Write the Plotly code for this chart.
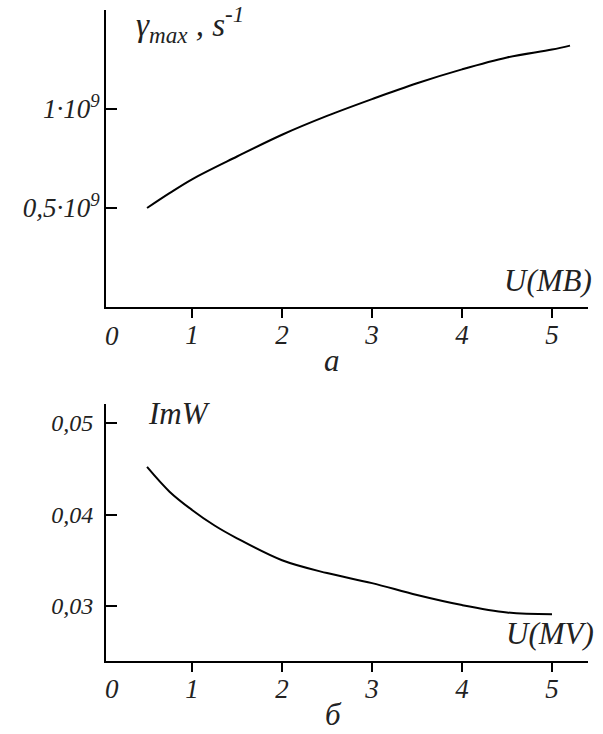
import plotly.graph_objects as go

# ---- data ----
U_a = [0.5, 0.75, 1.0, 1.5, 2.0, 2.5, 3.0, 3.5, 4.0, 4.5, 5.0, 5.2]
gamma_max = [0.50e9, 0.575e9, 0.645e9, 0.76e9, 0.87e9, 0.965e9, 1.05e9, 1.13e9, 1.20e9, 1.26e9, 1.30e9, 1.32e9]

U_b = [0.5, 0.75, 1.0, 1.25, 1.5, 2.0, 2.5, 3.0, 3.5, 4.0, 4.5, 5.0]
ImW = [0.0452, 0.0425, 0.0405, 0.0388, 0.0374, 0.0350, 0.0336, 0.0325, 0.0312, 0.0301, 0.0293, 0.0291]

x_tickvals = [1, 2, 3, 4, 5]
x_ticktext = ["<i>1</i>", "<i>2</i>", "<i>3</i>", "<i>4</i>", "<i>5</i>"]
ya_tickvals = [0.5e9, 1.0e9, 1.5e9]
ya_ticktext = ["<i>0,5·10<sup>9</sup></i>", "<i>1·10<sup>9</sup></i>", ""]
yb_tickvals = [0.03, 0.04, 0.05]
yb_ticktext = ["<i>0,03</i>", "<i>0,04</i>", "<i>0,05</i>"]

W, H = 603, 734
FONT = "Liberation Serif"
TXT = "#222222"


def px(x):
    return x / W


def py(y):
    return 1 - y / H


fig = go.Figure()
fig.add_trace(go.Scatter(x=U_a, y=gamma_max, mode="lines",
                         line=dict(color="black", width=2, shape="spline", smoothing=1.0),
                         xaxis="x", yaxis="y"))
fig.add_trace(go.Scatter(x=U_b, y=ImW, mode="lines",
                         line=dict(color="black", width=2, shape="spline", smoothing=1.0),
                         xaxis="x2", yaxis="y2"))

tickfont = dict(family=FONT, size=27, color=TXT)
common_x = dict(showline=True, linecolor="black", linewidth=2, showgrid=False, zeroline=False,
                ticks="outside", ticklen=9, tickwidth=2, tickcolor="black",
                tickvals=x_tickvals, ticktext=x_ticktext, tickfont=tickfont,
                range=[0.044, 5.4], ticklabelstandoff=-6)
common_y = dict(showline=True, linecolor="black", linewidth=2, showgrid=False, zeroline=False,
                ticks="inside", ticklen=11, tickwidth=2, tickcolor="black")

fig.update_layout(
    width=W, height=H,
    margin=dict(l=0, r=0, t=0, b=0),
    paper_bgcolor="white", plot_bgcolor="white",
    showlegend=False,
    font=dict(family=FONT, color=TXT),
    xaxis=dict(domain=[px(106), px(588)], anchor="y", **common_x),
    yaxis=dict(domain=[py(307), py(10)], anchor="x", range=[0, 1.5e9], ticklabelstandoff=-1,
               tickvals=ya_tickvals, ticktext=ya_ticktext, tickfont=tickfont, **common_y),
    xaxis2=dict(domain=[px(106), px(588)], anchor="y2", **common_x),
    yaxis2=dict(domain=[py(661), py(404)], anchor="x2", range=[0.02399, 0.05208], ticklabelstandoff=6,
                tickvals=yb_tickvals, ticktext=yb_ticktext,
                tickfont=dict(family=FONT, size=24, color=TXT), **common_y),
)

big = dict(family=FONT, size=31, color=TXT)
annos = [
    dict(x=px(112), y=py(336), text="<i>0</i>", font=tickfont),
    dict(x=px(112), y=py(689), text="<i>0</i>", font=tickfont),
    dict(x=px(332), y=py(360), text="<i>a</i>", font=big),
    dict(x=px(333), y=py(714), text="<i>б</i>", font=big),
    dict(x=px(594), y=py(281), text="<i>U(MB)</i>", font=big, xanchor="right"),
    dict(x=px(596), y=py(633), text="<i>U(MV)</i>", font=big, xanchor="right"),
    dict(x=px(146), y=py(413), text="<i>ImW</i>", font=big, xanchor="left"),
    dict(x=px(134), y=py(24), text="<i>γ<sub>max</sub> , s<sup>-1</sup></i>",
         font=dict(family=FONT, size=33, color=TXT), xanchor="left"),
]
for a in annos:
    a.update(xref="paper", yref="paper", showarrow=False)
    a.setdefault("xanchor", "center")
    a.setdefault("yanchor", "middle")
    fig.add_annotation(**a)

fig.write_html("out.html", config={"displayModeBar": False},
               post_script="document.body.style.margin='0px';document.body.style.padding='0px';")
